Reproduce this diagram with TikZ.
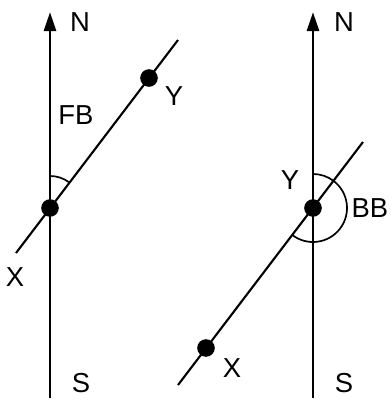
\documentclass[tikz,border=0pt]{standalone}
\usepackage{fontspec}
\setmainfont{Liberation Sans}
\usetikzlibrary{arrows.meta,angles}
\tikzset{
  mer/.style={-{Triangle[length=4.8mm,width=3mm]}, line width=2.1pt},
  brg/.style={line width=1.5pt},
  stn/.style={circle, fill, inner sep=0pt, minimum size=4.4mm},
  ang/.style={draw, line width=1.2pt},
  lbl/.style={font=\fontsize{19.5}{23}\selectfont, inner sep=1pt},
}

\begin{document}
\begin{tikzpicture}[x=0.025cm,y=0.025cm]
  \useasboundingbox (0,0) rectangle (391,404);
  % fore bearing: X to Y
  \coordinate (S1) at (50,6);
  \coordinate (N1) at (50,392);
  \coordinate (X1) at (50,196);
  \coordinate (Y1) at (149,326);
  \coordinate (A1) at (16,151);
  \coordinate (B1) at (178,364);
  \draw[mer] (S1) -- (N1);
  \draw[brg] (A1) -- (B1);
  \pic[ang, angle radius=0.8cm] {angle = Y1--X1--N1};
  \node[stn] (dX1) at (X1) {};
  \node[stn] (dY1) at (Y1) {};
  \node[lbl] (n1) at (80,382) {N};
  \node[lbl] (s1) at (81,21) {S};
  \node[lbl] (fb) at (76,289) {FB};
  \node[lbl] (y1) at (174,308) {Y};
  \node[lbl] (x1) at (15,127) {X};
  % back bearing: Y to X
  \coordinate (S2) at (313,6);
  \coordinate (N2) at (313,392);
  \coordinate (Y2) at (313,196);
  \coordinate (X2) at (206,56);
  \coordinate (A2) at (178,19);
  \coordinate (B2) at (363,262);
  \draw[mer] (S2) -- (N2);
  \draw[brg] (A2) -- (B2);
  \pic[ang, angle radius=0.85cm] {angle = X2--Y2--N2};
  \node[stn] (dY2) at (Y2) {};
  \node[stn] (dX2) at (X2) {};
  \node[lbl] (n2) at (344,382) {N};
  \node[lbl] (s2) at (344,21) {S};
  \node[lbl] (bb) at (370,196) {BB};
  \node[lbl] (y2) at (290,224) {Y};
  \node[lbl] (x2) at (232,36) {X};
\end{tikzpicture}
\end{document}
